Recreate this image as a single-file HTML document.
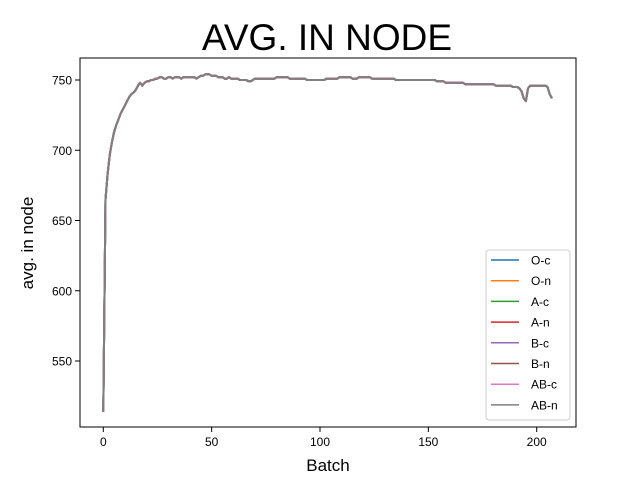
<!DOCTYPE html>
<html><head><meta charset="utf-8"><style>
body{margin:0;background:#fff;}
svg{display:block;font-family:"Liberation Sans","DejaVu Sans",sans-serif;}
</style></head><body>
<svg id="chart" width="640" height="480" xmlns="http://www.w3.org/2000/svg">
<rect width="640" height="480" fill="#fff"/>
<text x="327" y="50" font-size="37" text-anchor="middle">AVG. IN NODE</text>
<text x="328" y="471" font-size="17" text-anchor="middle">Batch</text>
<text transform="translate(33,243) rotate(-90)" font-size="17" text-anchor="middle">avg. in node</text>
<g id="ticks"></g>
<g id="lines"></g>
<rect x="80" y="58" width="496" height="369" fill="none" stroke="#000" stroke-width="1"/>
<g id="legend"></g>
</svg>
<script>
const seriesNames=["O-c","O-n","A-c","A-n","B-c","B-n","AB-c","AB-n"];
const seriesColors=["#1f77b4","#ff7f0e","#2ca02c","#d62728","#9467bd","#8c564b","#e377c2","#7f7f7f"];
const xTicks=[0,50,100,150,200];
const yTicks=[550,600,650,700,750];
const avgValues=[514,665,683,697,706,713,718,722,726,729,
732,735,738,740,741,743,746,748,746,748,
749,749,750,750,751,751,752,752,751,751,
752,752,751,752,752,752,751,752,752,752,
752,752,752,751,752,753,753,754,754,754,
753,753,753,752,752,752,751,751,752,751,
751,751,751,750,750,750,750,749,749,750,
751,751,751,751,751,751,751,751,751,751,
752,752,752,752,752,752,751,751,751,751,
751,751,751,751,750,750,750,750,750,750,
750,750,750,751,751,751,751,751,751,752,
752,752,752,752,752,751,751,751,752,752,
752,752,752,752,751,751,751,751,751,751,
751,751,751,751,751,750,750,750,750,750,
750,750,750,750,750,750,750,750,750,750,
750,750,750,750,749,749,749,749,748,748,
748,748,748,748,748,748,748,747,747,747,
747,747,747,747,747,747,747,747,747,747,
747,746,746,746,746,746,746,746,746,745,
745,745,744,742,737,735,744,746,746,746,
746,746,746,746,746,745,740,737];
const NS="http://www.w3.org/2000/svg";
const xs=v=>103.3+v*2.167;
const ys=v=>80+(750-v)*1.405;
function mk(t,a,p){const e=document.createElementNS(NS,t);for(const k in a)e.setAttribute(k,a[k]);p.appendChild(e);return e;}
const tg=document.getElementById('ticks');
xTicks.forEach(t=>{
 const l=mk('line',{x1:xs(t),x2:xs(t),y1:427,y2:432,stroke:'#000'},tg);
 
 
 const tx=mk('text',{x:xs(t),y:446,'font-size':12,'text-anchor':'middle'},tg);tx.textContent=t;
 
 
});
yTicks.forEach(t=>{
 const l=mk('line',{x1:75,x2:80,y1:ys(t),y2:ys(t),stroke:'#000'},tg);
 
 
 const tx=mk('text',{x:72,y:ys(t)+4.5,'font-size':12,'text-anchor':'end'},tg);tx.textContent=t;
 
 
});
const lg=document.getElementById('lines');
const d=avgValues.map((v,i)=>(i?'L':'M')+xs(i).toFixed(1)+','+ys(v).toFixed(1)).join('');
seriesNames.forEach((n,i)=>{
 const p=mk('path',{d:d,fill:'none',stroke:seriesColors[i],'stroke-width':2,'stroke-linejoin':'round'},lg);
 
 
});
const leg=document.getElementById('legend');


mk('rect',{x:486,y:250,width:84,height:170,rx:3,fill:'#fff',stroke:'#ccc'},leg);
seriesNames.forEach((n,i)=>{
 const y=260+i*20.7;
 const g=mk('g',{},leg);
 
 
 mk('line',{x1:491,x2:519,y1:y,y2:y,stroke:seriesColors[i],'stroke-width':1.5},g);
 const t=mk('text',{x:531,y:y+4.5,'font-size':12},g);t.textContent=n;
});
</script>
</body></html>
